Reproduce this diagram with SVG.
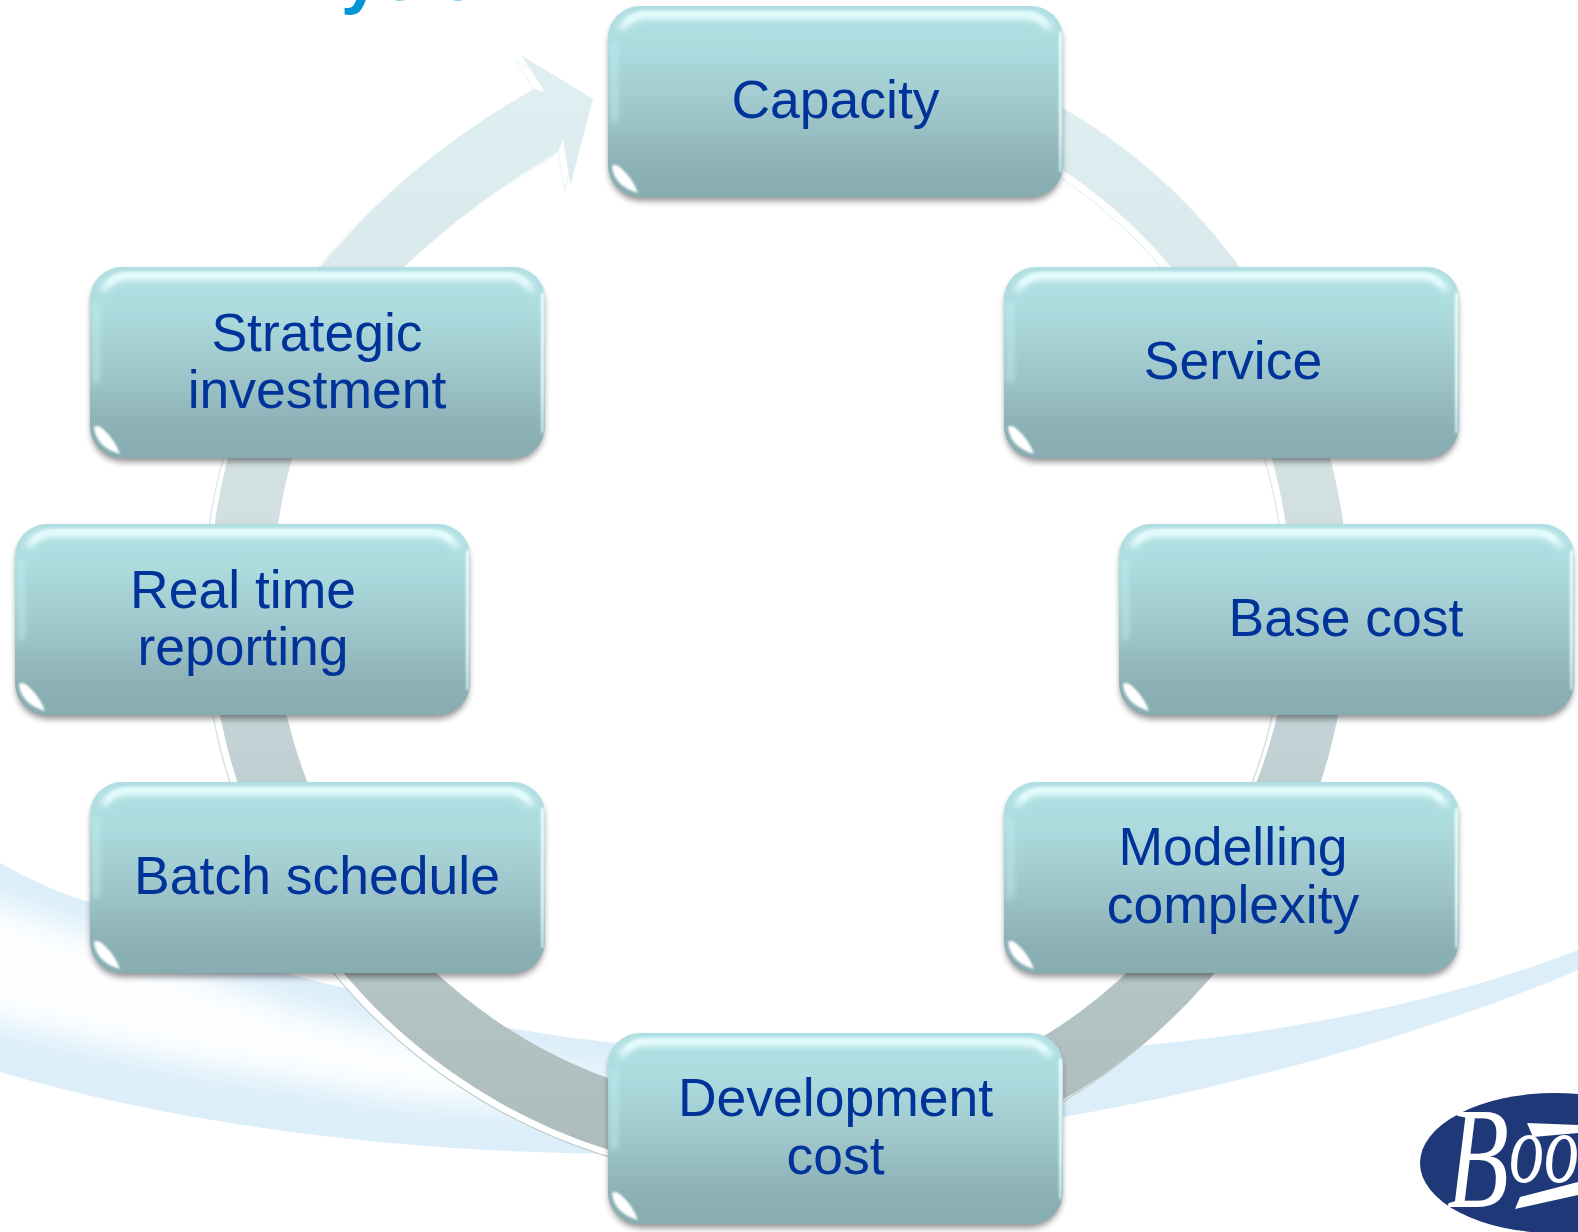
<svg xmlns="http://www.w3.org/2000/svg" xmlns:xlink="http://www.w3.org/1999/xlink" width="1578" height="1232" viewBox="0 0 1578 1232">
<style>
.lbl{font-family:"Liberation Sans",Arial,sans-serif;font-size:53.5px;fill:#003399;text-anchor:middle}
</style>
<defs>
<linearGradient id="boxFill" x1="0" y1="0" x2="0" y2="1">
<stop offset="0" stop-color="#b0dfe3"/><stop offset=".2" stop-color="#aedde0"/><stop offset=".55" stop-color="#9fc7cb"/><stop offset=".85" stop-color="#8bb0b5"/><stop offset="1" stop-color="#87adb2"/>
</linearGradient>
<linearGradient id="ringFill" gradientUnits="userSpaceOnUse" x1="0" y1="100" x2="0" y2="1150">
<stop offset="0" stop-color="#dfeff1"/><stop offset=".38" stop-color="#d2e0e2"/><stop offset=".62" stop-color="#c1d1d4"/><stop offset=".86" stop-color="#b3c2c3"/><stop offset="1" stop-color="#aebcbd"/>
</linearGradient>
<linearGradient id="ringLine" gradientUnits="userSpaceOnUse" x1="0" y1="100" x2="0" y2="1150">
<stop offset="0" stop-color="#eef8f9"/><stop offset="1" stop-color="#bcc8c9"/>
</linearGradient>
<linearGradient id="edgeFade" x1="0" y1="0" x2="0" y2="1">
<stop offset="0" stop-color="#f2fdfe"/><stop offset=".7" stop-color="#e6fafb"/><stop offset="1" stop-color="#c4e4e7"/>
</linearGradient>
<filter id="b1" x="-100%" y="-50%" width="300%" height="200%"><feGaussianBlur stdDeviation="1"/></filter>
<filter id="b2" x="-100%" y="-50%" width="300%" height="200%"><feGaussianBlur stdDeviation="3"/></filter>
<filter id="b14" x="-20%" y="-40%" width="140%" height="180%"><feGaussianBlur stdDeviation="16"/></filter>
<clipPath id="swooshClip"><path id="swooshShape" d="M0,863 C30,880 60,893 89,902 C190,948 280,975 370,993 C430,1012 500,1030 607,1042 C800,1060 980,1062 1147,1045 C1300,1030 1450,1000 1578,950 L1578,970 C1450,1025 1250,1085 1064,1117 C800,1170 350,1175 0,1072 Z"/></clipPath>
<g id="box">
<rect x="1" y="5" width="453" height="190" rx="32" fill="#000" opacity=".42" filter="url(#b2)"/>
<rect x="0" y="0" width="455" height="191" rx="32" fill="url(#boxFill)"/>
<path d="M13,24 Q19,10 40,10 L415,10 Q436,10 442,24" fill="none" stroke="#e4fafb" stroke-width="7" filter="url(#b2)"/>
<path d="M18,18 Q24,8 40,8 L415,8 Q431,8 437,18" fill="none" stroke="#e2fafb" stroke-width="6" filter="url(#b1)"/>
<rect x="4" y="36" width="5" height="80" fill="#c2eff2" opacity=".75" filter="url(#b2)"/>
<rect x="451" y="26" width="3" height="140" fill="url(#edgeFade)" filter="url(#b1)"/>
<path d="M4,160 Q6,180 30,187 Q25,173 14,163 Q8,157 4,160 Z" fill="#fff" filter="url(#b1)"/>
</g>
<path id="ring" d="M1007.6,80 A570,572 0 1 1 296.2,300 L320.5,267 Q410,158 534,89 L545,92 L521,55 L593,99 L570.5,185 L563,140 L558,152 Q470,203 404,267 L367.4,300 A509,512 0 1 0 1030,150 Z"/>
</defs>
<rect width="1578" height="1232" fill="#fff"/>
<g id="background">
<use xlink:href="#swooshShape" href="#swooshShape" fill="#dbeefa"/>
<g clip-path="url(#swooshClip)"><path d="M-60,885 L100,938 L300,1012 L520,1062 L660,1090 L660,1118 L400,1098 L180,1062 L0,1022 L-60,1000 Z" fill="#fff" opacity=".95" filter="url(#b14)"/></g>
<text x="341" y="0" font-family="'Liberation Sans',Arial,sans-serif" font-weight="700" font-size="70" fill="#0096d6">ysis</text>
</g>
<g id="logo">
<ellipse cx="1555" cy="1163" rx="135" ry="70" fill="#1f3878"/>
<path d="M1527,1123 L1578,1125 L1578,1133 L1533,1137 Z M1520,1197 L1578,1182 L1578,1195 L1515,1209 Z" fill="#fff"/>
<text transform="translate(1447,1207) scale(.7,1)" font-family="'Liberation Serif',serif" font-style="italic" font-size="145" fill="#fff">B<tspan font-size="100" dy="-25">oots</tspan></text>
</g>
<g id="connectors">
<use xlink:href="#ring" href="#ring" transform="translate(-6,5)" fill="#fff" stroke="url(#ringLine)" stroke-width="1.2"/>
<use xlink:href="#ring" href="#ring" fill="url(#ringFill)"/>
</g>
<g id="node-capacity"><use xlink:href="#box" href="#box" x="608" y="6"/><text class="lbl" x="835.5" y="118">Capacity</text></g>
<g id="node-service"><use xlink:href="#box" href="#box" x="1004" y="267"/><text class="lbl" x="1233" y="379">Service</text></g>
<g id="node-base-cost"><use xlink:href="#box" href="#box" x="1119" y="524"/><text class="lbl" x="1346" y="636">Base cost</text></g>
<g id="node-modelling"><use xlink:href="#box" href="#box" x="1004" y="782"/><text class="lbl" x="1233" y="865">Modelling</text><text class="lbl" x="1233" y="923">complexity</text></g>
<g id="node-development"><use xlink:href="#box" href="#box" x="608" y="1033"/><text class="lbl" x="835.5" y="1116">Development</text><text class="lbl" x="835.5" y="1174">cost</text></g>
<g id="node-batch"><use xlink:href="#box" href="#box" x="90" y="782"/><text class="lbl" x="317" y="894">Batch schedule</text></g>
<g id="node-real-time"><use xlink:href="#box" href="#box" x="15" y="524"/><text class="lbl" x="243" y="608">Real time</text><text class="lbl" x="243" y="665">reporting</text></g>
<g id="node-strategic"><use xlink:href="#box" href="#box" x="90" y="267"/><text class="lbl" x="317" y="351">Strategic</text><text class="lbl" x="317" y="408">investment</text></g>
</svg>
